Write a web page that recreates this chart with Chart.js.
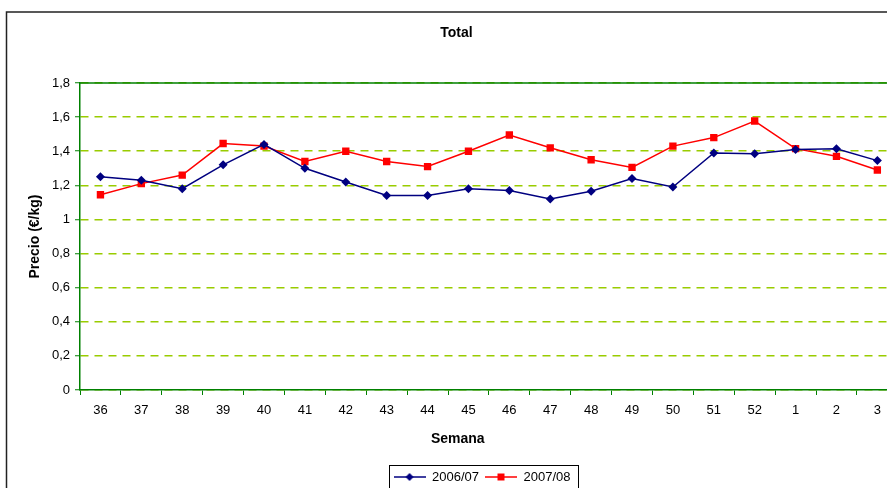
<!DOCTYPE html>
<html>
<head>
<meta charset="utf-8">
<script src="https://cdn.jsdelivr.net/npm/chart.js@4.4.0/dist/chart.umd.min.js"></script>
<style>
  html, body { margin: 0; padding: 0; background: #fff; overflow: hidden; }
  #wrap { position: relative; width: 903px; height: 500px; }
</style>
</head>
<body>
<div id="wrap"><canvas id="grafico"></canvas></div>
<script>
// semanas de la campaña
const semanas = ["36","37","38","39","40","41","42","43","44","45","46","47","48","49","50","51","52","1","2","3"]
// precio medio (€/kg)
const precio0607 = [1.25,1.23,1.18,1.32,1.44,1.30,1.22,1.14,1.14,1.18,1.17,1.12,1.165,1.24,1.19,1.39,1.385,1.41,1.415,1.345]
const precio0708 = [1.145,1.21,1.26,1.445,1.43,1.34,1.40,1.34,1.31,1.40,1.495,1.42,1.35,1.305,1.43,1.48,1.577,1.415,1.37,1.29]
const etiquetasY = ["0","0,2","0,4","0,6","0,8","1","1,2","1,4","1,6","1,8"]
const series = ["2006/07","2007/08"]

const fuente = "'Liberation Sans', Arial, sans-serif"
const verde = "#008000"
const verdeClaro = "#99cc00"

// muestra de leyenda: linea con marcador en medio
function muestra(color, forma) {
    const c = document.createElement("canvas")
    c.width = 32
    c.height = 10
    const x = c.getContext("2d")
    x.strokeStyle = color
    x.fillStyle = color
    x.lineWidth = 1.5
    x.beginPath()
    x.moveTo(0, 5)
    x.lineTo(32, 5)
    x.stroke()
    x.beginPath()
    if (forma == "rombo") {
        x.moveTo(16, 1); x.lineTo(20, 5); x.lineTo(16, 9); x.lineTo(12, 5)
    } else {
        x.rect(12.5, 1.5, 7, 7)
    }
    x.closePath()
    x.fill()
    return c
}
const muestras = [muestra("#000080", "rombo"), muestra("#ff0000", "cuadro")]

const marco = {
    id: "marco",
    beforeDraw: (chart) => {
        const ctx = chart.ctx
        ctx.save()
        ctx.strokeStyle = "#222"
        ctx.lineWidth = 1.5
        ctx.strokeRect(6.5, 12, 1200, 1200)
        ctx.restore()
    },
    afterLayout: (chart) => {
        // la leyenda va algo desplazada a la derecha
        chart.legend.left += 51
    },
    afterDraw: (chart) => {
        const ctx = chart.ctx
        const a = chart.chartArea
        ctx.save()
        // borde superior del area de trazado
        ctx.strokeStyle = verde
        ctx.lineWidth = 1.5
        ctx.beginPath()
        ctx.moveTo(a.left, a.top)
        ctx.lineTo(a.right, a.top)
        ctx.stroke()
        // caja de la leyenda
        const cajas = chart.legend.legendHitBoxes
        if (cajas && cajas.length) {
            let izq = Math.min(...cajas.map(b => b.left))
            let der = Math.max(...cajas.map(b => b.left + b.width))
            ctx.strokeStyle = "#000"
            ctx.lineWidth = 1
            ctx.strokeRect(Math.round(izq - 5) + 0.5, Math.round(chart.legend.top) + 0.5, Math.round(der - izq + 12), 60)
        }
        ctx.restore()
    }
}

const ctx = document.querySelector("#grafico").getContext("2d")
const grafico = new Chart(ctx, {
    type: "line",
    data: {
        labels: semanas,
        datasets: [{
            label: series[0],
            data: precio0607,
            borderColor: "#000080",
            backgroundColor: "#000080",
            borderWidth: 1.5,
            pointStyle: "rectRot",
            pointRadius: 4.5,
            pointBorderWidth: 0,
            tension: 0
        }, {
            label: series[1],
            data: precio0708,
            borderColor: "#ff0000",
            backgroundColor: "#ff0000",
            borderWidth: 1.5,
            pointStyle: "rect",
            pointRadius: 5.2,
            pointBorderWidth: 0,
            tension: 0
        }]
    },
    options: {
        responsive: true,
        maintainAspectRatio: false,
        animation: false,
        layout: { padding: { left: 10, right: 0, top: 0, bottom: 6.5 } },
        plugins: {
            title: {
                display: true,
                text: "Total",
                color: "#000",
                font: { family: fuente, size: 14, weight: "bold" },
                padding: { top: 24.6, bottom: 41.6 }
            },
            legend: {
                position: "bottom",
                labels: {
                    usePointStyle: true,
                    pointStyleWidth: 32,
                    padding: 6,
                    color: "#000",
                    font: { family: fuente, size: 13 },
                    generateLabels: (chart) => chart.data.datasets.map((d, i) => ({
                        text: d.label,
                        pointStyle: muestras[i],
                        fillStyle: d.borderColor,
                        strokeStyle: d.borderColor,
                        lineWidth: 0,
                        hidden: false,
                        datasetIndex: i
                    }))
                }
            },
            tooltip: { enabled: false }
        },
        scales: {
            x: {
                offset: true,
                afterFit: (s) => { s.height = 74.5 },
                grid: {
                    offset: true,
                    drawOnChartArea: false,
                    drawTicks: true,
                    tickLength: 5,
                    tickColor: verde,
                    tickWidth: 1
                },
                border: { color: verde, width: 1.5 },
                ticks: {
                    color: "#000",
                    padding: 8,
                    maxRotation: 0,
                    autoSkip: false,
                    font: { family: fuente, size: 13 }
                },
                title: {
                    display: true,
                    text: "Semana                ",
                    color: "#000",
                    font: { family: fuente, size: 14, weight: "bold" },
                    padding: { top: 5.5, bottom: 17.1 }
                }
            },
            y: {
                min: 0,
                max: 1.8,
                afterFit: (s) => { s.width = 70 },
                grid: {
                    color: verdeClaro,
                    lineWidth: 1.5,
                    drawTicks: true,
                    tickLength: 5,
                    tickColor: verde,
                    tickWidth: 1,
                    tickBorderDash: []
                },
                border: {
                    color: verde,
                    width: 1.5,
                    dash: [8, 6]
                },
                ticks: {
                    stepSize: 0.2,
                    color: "#000",
                    padding: 5,
                    font: { family: fuente, size: 13 },
                    callback: (v, i) => etiquetasY[i]
                },
                title: {
                    display: true,
                    text: "Precio (€/kg)",
                    color: "#000",
                    font: { family: fuente, size: 14, weight: "bold" },
                    padding: { top: 16.6, bottom: 0 }
                }
            }
        }
    },
    plugins: [marco]
})
</script>
</body>
</html>
